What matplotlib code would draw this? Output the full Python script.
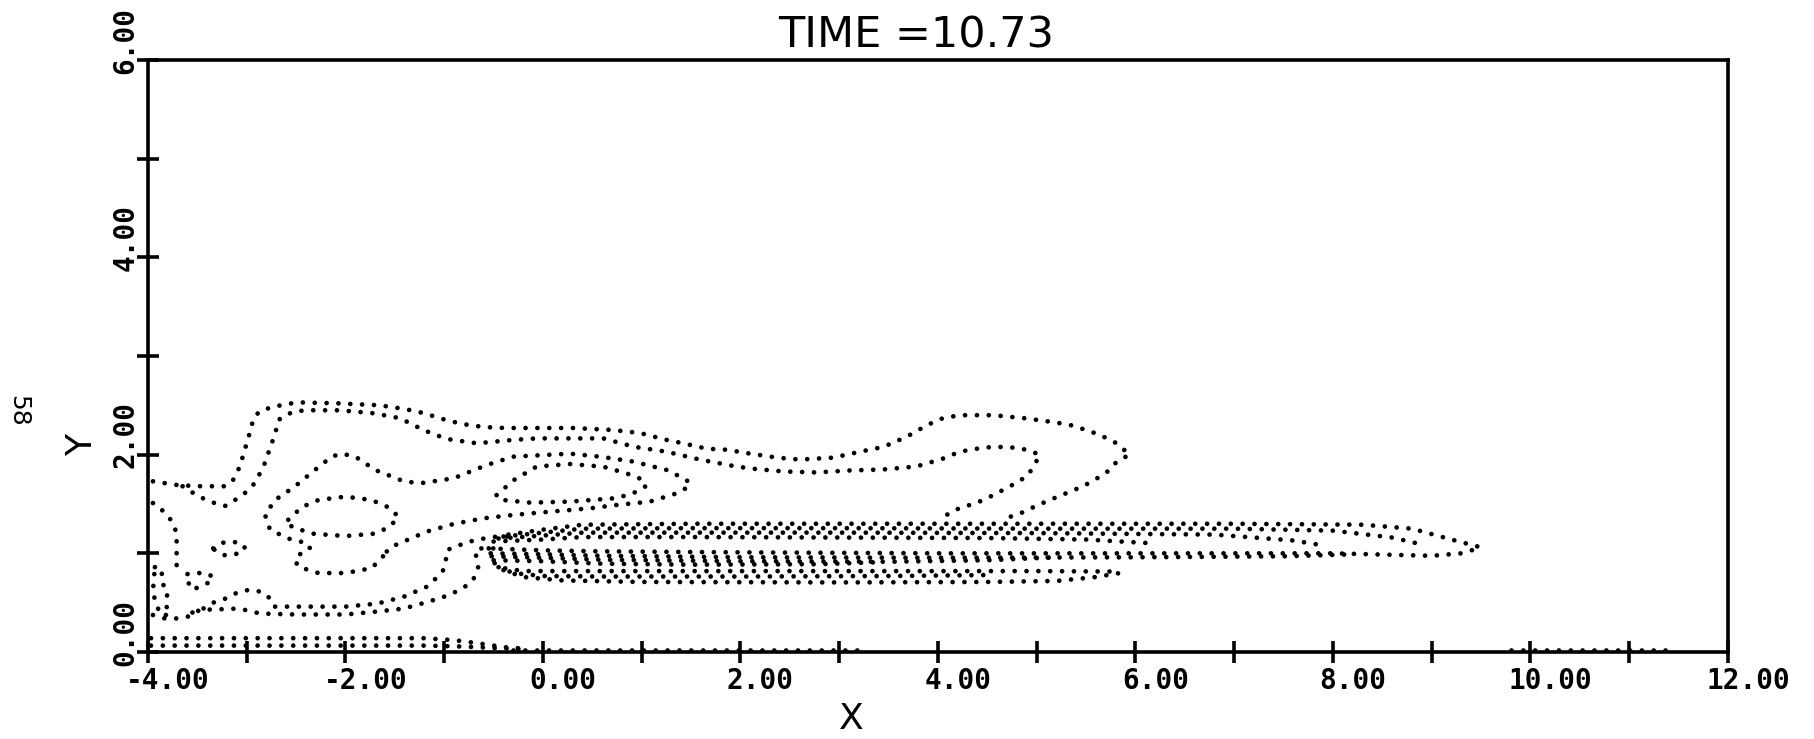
import matplotlib
matplotlib.use("Agg")
import matplotlib.pyplot as plt
import matplotlib.transforms as mtransforms

# contour lines, (x, y) in data units
contour_a = [(-3.95, 1.73), (-3.69, 1.69), (-3.46, 1.68), (-3.22, 1.68), (-3.14, 1.74), (-3.07, 1.88),
             (-3.02, 2.05), (-2.97, 2.22), (-2.93, 2.37), (-2.87, 2.44), (-2.75, 2.48), (-2.61, 2.51),
             (-2.48, 2.53), (-2.06, 2.52), (-1.65, 2.50), (-1.45, 2.47), (-1.28, 2.44), (-1.14, 2.40),
             (-0.98, 2.35), (-0.81, 2.31), (-0.60, 2.28), (-0.37, 2.27), (0.31, 2.27), (0.71, 2.25),
             (0.98, 2.22), (1.25, 2.15), (1.42, 2.115), (1.66, 2.06), (1.86, 2.05), (2.10, 2.01),
             (2.37, 1.97), (2.60, 1.95), (2.94, 1.97), (3.21, 2.03), (3.45, 2.08), (3.68, 2.18),
             (3.89, 2.30), (4.05, 2.37), (4.22, 2.40), (4.56, 2.40), (4.87, 2.37), (5.17, 2.33),
             (5.34, 2.30), (5.50, 2.25), (5.64, 2.20), (5.81, 2.115), (5.94, 2.00), (5.81, 1.93),
             (5.74, 1.845), (5.64, 1.777), (5.47, 1.68), (5.30, 1.61), (5.13, 1.54), (4.97, 1.47),
             (4.87, 1.42), (4.73, 1.37), (4.68, 1.32)]
contour_b = [(-3.65, 1.68), (-3.59, 1.64), (-3.47, 1.57), (-3.36, 1.52), (-3.22, 1.48), (-3.12, 1.54),
             (-3.02, 1.61), (-2.92, 1.71), (-2.83, 1.88), (-2.77, 2.05), (-2.71, 2.22), (-2.68, 2.35),
             (-2.61, 2.40), (-2.51, 2.44), (-2.38, 2.45), (-2.06, 2.45), (-1.72, 2.42), (-1.45, 2.37),
             (-1.21, 2.25), (-0.98, 2.16), (-0.67, 2.115), (-0.30, 2.15), (-0.06, 2.165), (0.61, 2.165),
             (0.92, 2.08), (1.25, 2.03), (1.59, 1.95), (1.93, 1.885), (2.10, 1.86), (2.43, 1.83),
             (2.77, 1.82), (3.11, 1.84), (3.45, 1.85), (3.78, 1.88), (3.95, 1.93), (4.05, 1.96),
             (4.22, 2.03), (4.39, 2.06), (4.56, 2.08), (4.73, 2.075), (4.90, 2.05), (5.03, 2.00),
             (4.97, 1.88), (4.90, 1.78), (4.73, 1.68), (4.56, 1.59), (4.39, 1.51), (4.22, 1.46),
             (4.05, 1.37), (3.99, 1.34)]
contour_c = [(-3.95, 1.51), (-3.86, 1.44), (-3.79, 1.37), (-3.74, 1.29), (-3.71, 1.20), (-3.71, 1.07),
             (-3.71, 0.93), (-3.71, 0.80)]
contour_d = [(-3.34, 1.05), (-3.27, 1.10), (-3.19, 1.12), (-3.09, 1.11), (-3.02, 1.07), (-3.03, 1.02),
             (-3.12, 0.99), (-3.22, 0.98), (-3.30, 1.01), (-3.34, 1.05)]
contour_e = [(-3.60, 0.79), (-3.50, 0.80), (-3.41, 0.80), (-3.34, 0.76), (-3.37, 0.71), (-3.46, 0.67),
             (-3.55, 0.63), (-3.59, 0.70), (-3.60, 0.79)]
contour_f = [(-3.93, 0.86), (-3.86, 0.84), (-3.86, 0.70), (-3.80, 0.62), (-3.82, 0.48), (-3.78, 0.38),
             (-3.86, 0.37), (-3.92, 0.48), (-3.95, 0.62), (-3.93, 0.86)]
contour_g_up = [(-3.55, 0.40), (-3.44, 0.44), (-3.34, 0.50), (-3.22, 0.54), (-3.10, 0.60), (-2.98, 0.63),
                (-2.85, 0.61), (-2.76, 0.54), (-2.72, 0.46), (-2.50, 0.46), (-2.00, 0.46), (-1.68, 0.49),
                (-1.41, 0.56), (-1.18, 0.66), (-1.08, 0.75), (-1.01, 0.83), (-0.98, 0.92), (-0.99, 1.00),
                (-0.94, 1.05), (-0.84, 1.085), (-0.74, 1.12), (-0.60, 1.15), (-0.47, 1.17), (-0.33, 1.17)]
contour_g_low = [(-3.95, 0.375), (-3.83, 0.34), (-3.71, 0.34), (-3.59, 0.36), (-3.47, 0.43), (-3.34, 0.43),
                 (-3.10, 0.44), (-2.98, 0.42), (-2.87, 0.39), (-2.50, 0.38), (-2.00, 0.38), (-1.68, 0.41),
                 (-1.41, 0.44), (-1.16, 0.51), (-0.94, 0.58), (-0.76, 0.68), (-0.69, 0.76), (-0.655, 0.865),
                 (-0.67, 0.95), (-0.69, 1.02), (-0.64, 1.05), (-0.50, 1.05)]
contour_l3 = [(-1.62, 0.97), (-1.735, 0.85), (-2.00, 0.80), (-2.275, 0.80), (-2.48, 0.865), (-2.51, 0.93),
              (-2.48, 0.98), (-2.36, 1.05), (-2.38, 1.10), (-2.58, 1.15), (-2.765, 1.24), (-2.815, 1.39),
              (-2.714, 1.54), (-2.51, 1.68), (-2.31, 1.845), (-2.14, 1.98), (-2.04, 2.01), (-1.90, 1.98),
              (-1.70, 1.845), (-1.41, 1.73), (-1.245, 1.71), (-0.908, 1.76), (-0.57, 1.895), (-0.30, 1.98),
              (0.274, 2.01), (0.577, 1.98), (0.915, 1.93), (1.252, 1.845), (1.455, 1.744), (1.489, 1.683),
              (1.353, 1.608), (1.083, 1.524), (0.746, 1.49), (0.476, 1.456), (0.071, 1.422), (-0.30, 1.389),
              (-0.604, 1.355), (-0.908, 1.297), (-1.178, 1.22), (-1.414, 1.118), (-1.55, 1.06), (-1.62, 0.97)]
contour_l4 = [(-2.58, 1.34), (-2.44, 1.47), (-2.275, 1.54), (-2.00, 1.575), (-1.735, 1.54), (-1.55, 1.46),
              (-1.465, 1.37), (-1.55, 1.27), (-1.70, 1.20), (-2.00, 1.175), (-2.34, 1.20), (-2.545, 1.27),
              (-2.58, 1.34)]
contour_l5 = [(-0.47, 1.59), (-0.30, 1.74), (-0.064, 1.88), (0.274, 1.905), (0.611, 1.878), (0.847, 1.81),
              (1.016, 1.744), (1.04, 1.68), (0.915, 1.61), (0.746, 1.56), (0.274, 1.524), (-0.131, 1.514),
              (-0.40, 1.54), (-0.47, 1.59)]

# the jet: tightly packed contours
jet_u1 = [(-0.35, 1.19), (0.0, 1.24), (0.4, 1.29), (1.5, 1.30), (3, 1.30), (5, 1.30), (7, 1.30),
          (8.3, 1.29), (8.8, 1.25), (9.2, 1.14), (9.5, 1.06)]
jet_u2 = [(-0.40, 1.17), (0.0, 1.21), (0.4, 1.25), (1.5, 1.255), (3, 1.255), (5, 1.25), (7, 1.25),
          (8.0, 1.23), (8.6, 1.16), (8.9, 1.09)]
jet_u3 = [(-0.45, 1.15), (0.0, 1.18), (0.4, 1.21), (1.5, 1.21), (3, 1.21), (5, 1.205), (6.8, 1.19),
          (7.6, 1.13), (7.9, 1.08)]
jet_u4 = [(-0.50, 1.12), (0.0, 1.14), (0.4, 1.165), (1.5, 1.165), (3, 1.16), (4.5, 1.155), (5.5, 1.14),
          (6.2, 1.10)]
jet_m1 = [(-0.55, 1.05), (0.0, 1.03), (0.6, 1.02), (2, 1.01), (4, 1.00), (6, 1.00), (8, 1.00),
          (9.0, 0.975), (9.3, 1.00), (9.5, 1.06)]
jet_m2 = [(-0.53, 1.00), (0.0, 0.99), (0.6, 0.975), (2, 0.96), (4, 0.955), (6, 0.96), (7.5, 0.97),
          (8.2, 0.99)]
jet_m3 = [(-0.52, 0.97), (0.0, 0.955), (0.6, 0.935), (2, 0.92), (3.5, 0.915), (4.5, 0.93), (5.2, 0.96)]
jet_m4 = [(-0.50, 0.93), (0.0, 0.92), (0.6, 0.895), (1.5, 0.885), (2.8, 0.89), (3.4, 0.91)]
jet_l1 = [(-0.49, 0.90), (-0.40, 0.85), (-0.2, 0.82), (0.5, 0.82), (2, 0.82), (4, 0.82), (5, 0.82),
          (5.84, 0.815)]
jet_l2 = [(-0.45, 0.86), (-0.3, 0.80), (0.0, 0.77), (0.6, 0.765), (2, 0.765), (3.5, 0.77), (4.5, 0.78)]
jet_l3 = [(-0.40, 0.83), (-0.2, 0.76), (0.2, 0.725), (1, 0.71), (3, 0.705), (4.5, 0.71), (5.2, 0.72),
          (5.6, 0.76), (5.84, 0.80)]

# near the wall
bottom_1 = [(-3.97, 0.14), (-3, 0.14), (-2, 0.14), (-1.2, 0.14), (-0.9, 0.12), (-0.6, 0.08), (-0.4, 0.05),
            (-0.2, 0.035)]
bottom_2 = [(-3.97, 0.065), (-3, 0.065), (-2, 0.065), (-1.2, 0.065), (-0.8, 0.055), (-0.5, 0.04),
            (-0.2, 0.03)]
bottom_3 = [(-0.3, 0.02), (1.5, 0.02), (3.2, 0.02)]
bottom_4 = [(9.8, 0.02), (10.6, 0.02), (11.4, 0.02)]

all_contours = [contour_a, contour_b, contour_c, contour_d, contour_e, contour_f, contour_g_up,
                contour_g_low, contour_l3, contour_l4, contour_l5,
                jet_u1, jet_u2, jet_u3, jet_u4, jet_m1, jet_m2, jet_m3, jet_m4, jet_l1, jet_l2, jet_l3,
                bottom_1, bottom_2, bottom_3, bottom_4]

x_ticks = list(range(-4, 13))
x_labels = ["%.2f" % t if t % 2 == 0 else "" for t in x_ticks]
y_ticks = list(range(0, 7))
y_labels = ["%.2f" % t if t % 2 == 0 else "" for t in y_ticks]

fig = plt.figure(figsize=(18.15, 7.39), dpi=100)
ax = fig.add_axes([148 / 1815, 87 / 739, 1580 / 1815, 592 / 739])

for c in all_contours:
    xs, ys = zip(*c)
    ax.plot(xs, ys, color="black", lw=3.4, linestyle=(0, (0.01, 2.5)),
            dash_capstyle="round", solid_capstyle="round")

ax.set_xlim(-4, 12)
ax.set_ylim(0, 6)
for s in ax.spines.values():
    s.set_linewidth(2.6)

ax.set_xticks(x_ticks)
ax.set_xticklabels(x_labels, family="DejaVu Sans Mono", weight="bold", fontsize=20)
ax.set_yticks(y_ticks)
ax.set_yticklabels(y_labels, family="DejaVu Sans Mono", weight="bold", fontsize=20,
                   rotation=90, va="center")
ax.tick_params(direction="inout", length=16, width=2.6)
ax.tick_params(axis="x", pad=3)
ax.tick_params(axis="y", pad=-2)

# labels sit a bit off the ticks in the original plotter output
dx = mtransforms.ScaledTranslation(0.2, 0, fig.dpi_scale_trans)
for lbl in ax.get_xticklabels():
    lbl.set_transform(lbl.get_transform() + dx)
dy = mtransforms.ScaledTranslation(0, 0.2, fig.dpi_scale_trans)
for lbl in ax.get_yticklabels():
    lbl.set_transform(lbl.get_transform() + dy)

ax.set_xlabel("X", fontsize=26)
ax.xaxis.set_label_coords(0.445, -0.085)
ax.set_ylabel("Y", fontsize=26)
ax.yaxis.set_label_coords(-0.031, 0.35)

fig.text(916 / 1815, 1 - 47 / 739, "TIME =10.73", fontsize=31, ha="center", va="baseline")
fig.text(18 / 1815, 1 - 411 / 739, "58", fontsize=18, rotation=-90, ha="center", va="center")

fig.savefig("out.png", dpi=100)
